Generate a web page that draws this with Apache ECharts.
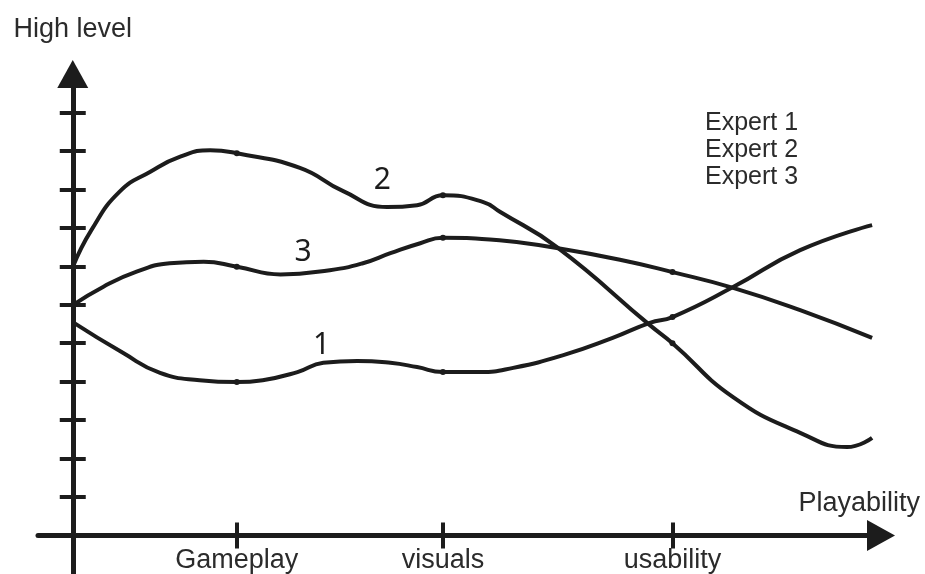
<!DOCTYPE html>
<html>
<head>
<meta charset="utf-8">
<script src="https://cdn.jsdelivr.net/npm/echarts@6/dist/echarts.min.js"></script>
<style>
  html, body { margin: 0; padding: 0; background: #ffffff; }
  #chart { width: 925px; height: 574px; }
</style>
</head>
<body>
<div id="chart"></div>
<script>
// Playability aspects placed along the horizontal axis
const aspectNames = ['Gameplay', 'visuals', 'usability'];
const aspectPositions = [2.03, 4.58, 7.42];

// Level ticks on the vertical axis
const levelTicks = [1, 2, 3, 4, 5, 6, 7, 8, 9, 10, 11];

const expertNames = ['Expert 1', 'Expert 2', 'Expert 3'];

// Each expert's curve as [position, level] pairs
const expert1 = [[0, 5.55], [0.62, 4.75], [1.08, 4.23], [1.57, 4.04], [2.03, 3.99], [2.35, 4.04],
  [2.78, 4.25], [3.10, 4.49], [3.52, 4.54], [3.93, 4.49], [4.26, 4.38], [4.58, 4.25],
  [5.04, 4.25], [5.45, 4.36], [6.07, 4.69], [6.68, 5.14], [7.14, 5.53], [7.42, 5.68],
  [8.17, 6.46], [9.0, 7.42], [9.89, 8.07]];
const expert2 = [[0, 6.98], [0.23, 7.94], [0.58, 8.94], [0.96, 9.46], [1.33, 9.85], [1.70, 10.02],
  [2.03, 9.94], [2.81, 9.56], [3.34, 8.96], [3.89, 8.54], [4.26, 8.59], [4.58, 8.85],
  [5.08, 8.67], [5.29, 8.41], [5.99, 7.50], [7.14, 5.47], [7.42, 5.0], [8.17, 3.60],
  [9.0, 2.67], [9.58, 2.30], [9.89, 2.54]];
const expert3 = [[0, 5.99], [0.38, 6.47], [0.79, 6.86], [1.20, 7.08], [1.62, 7.12], [2.03, 6.99],
  [2.57, 6.79], [3.18, 6.90], [3.59, 7.08], [3.93, 7.34], [4.30, 7.60], [4.58, 7.74],
  [5.28, 7.68], [5.97, 7.48], [6.77, 7.17], [7.42, 6.85], [8.17, 6.44], [9.0, 5.86],
  [9.89, 5.14]];

const ink = '#1c1c1c';
const textInk = '#2b2b2b';
const font = "'Century Gothic', 'Liberation Sans', Arial, sans-serif";

// Plot area: the level axis runs from -1 to 12 over 500 px, so level 0 sits 500/13 px above the bottom edge
const plotHeight = 500;
const levelMin = -1, levelMax = 12;
const zeroLift = plotHeight * (0 - levelMin) / (levelMax - levelMin);

function expertSeries(name, data, tag, tagAt) {
  return {
    type: 'line',
    name: name,
    data: data,
    smooth: 0.5,
    symbol: 'circle',
    symbolSize: function (v) { return aspectPositions.indexOf(v[0]) >= 0 ? 6 : 0; },
    showAllSymbol: true,
    lineStyle: { width: 4, color: ink },
    itemStyle: { color: ink },
    silent: true,
    markPoint: {
      symbol: 'circle',
      symbolSize: 1,
      itemStyle: { color: 'rgba(0,0,0,0)' },
      silent: true,
      label: {
        show: true,
        position: 'inside',
        formatter: tag,
        fontSize: 30,
        fontFamily: "'Noto Sans', sans-serif",
        color: ink
      },
      data: [{ coord: tagAt }]
    }
  };
}

const chart = echarts.init(document.getElementById('chart'));
const tickStyle = { width: 4, color: ink };

chart.setOption({
  animation: false,
  backgroundColor: '#ffffff',
  grid: { left: 38, right: 44, top: 74, height: plotHeight, containLabel: false, outerBoundsMode: 'none' },
  legend: {
    orient: 'vertical',
    left: 699,
    top: 111,
    padding: 0,
    itemGap: 2,
    itemWidth: 0,
    itemHeight: 0,
    selectedMode: false,
    data: expertNames,
    textStyle: { fontSize: 25, lineHeight: 24, color: textInk, fontFamily: font }
  },
  xAxis: [
    {
      type: 'value', min: -0.43, max: 10, position: 'bottom', offset: -zeroLift,
      axisLine: {
        onZero: false,
        lineStyle: { color: ink, width: 5 },
        symbol: ['none', 'triangle'],
        symbolSize: [31, 28]
      },
      axisTick: { show: true, customValues: aspectPositions, length: 13, inside: false, lineStyle: tickStyle },
      axisLabel: {
        show: true,
        customValues: aspectPositions,
        formatter: function (v) {
          const i = aspectPositions.indexOf(v);
          return i >= 0 ? aspectNames[i] : '';
        },
        fontSize: 27, lineHeight: 22, color: textInk, fontFamily: font, margin: 14
      },
      splitLine: { show: false },
      name: 'Playability',
      nameLocation: 'end',
      nameGap: 39,
      nameTextStyle: {
        align: 'right', verticalAlign: 'bottom', padding: [0, 0, 18, 0],
        fontSize: 27, color: textInk, fontFamily: font
      }
    },
    {
      type: 'value', min: -0.43, max: 10, position: 'bottom', offset: -zeroLift,
      axisLine: { show: false, onZero: false },
      axisTick: { show: true, customValues: aspectPositions, length: 13, inside: true, lineStyle: tickStyle },
      axisLabel: { show: false },
      splitLine: { show: false }
    }
  ],
  yAxis: [
    {
      type: 'value', min: levelMin, max: levelMax, position: 'left',
      axisLine: {
        onZero: true,
        lineStyle: { color: ink, width: 5 },
        symbol: ['none', 'triangle'],
        symbolSize: [31, 28]
      },
      axisTick: { show: true, customValues: levelTicks, length: 13, inside: false, lineStyle: tickStyle },
      axisLabel: { show: false },
      splitLine: { show: false },
      name: 'High level',
      nameLocation: 'end',
      nameGap: 31,
      nameTextStyle: { fontSize: 27, color: textInk, fontFamily: font }
    },
    {
      type: 'value', min: levelMin, max: levelMax, position: 'left',
      axisLine: { show: false, onZero: true },
      axisTick: { show: true, customValues: levelTicks, length: 13, inside: true, lineStyle: tickStyle },
      axisLabel: { show: false },
      splitLine: { show: false }
    }
  ],
  series: [
    expertSeries(expertNames[0], expert1, '1', [3.08, 4.93]),
    expertSeries(expertNames[1], expert2, '2', [3.83, 9.22]),
    expertSeries(expertNames[2], expert3, '3', [2.85, 7.37])
  ]
});
</script>
</body>
</html>
